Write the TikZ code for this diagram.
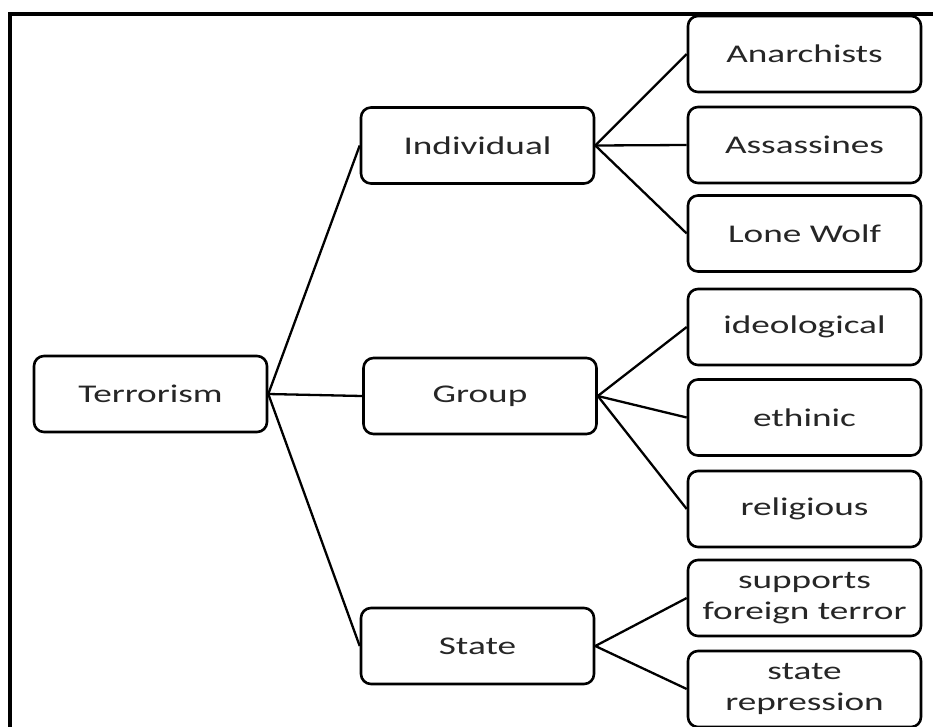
\documentclass[tikz,border=0pt]{standalone}
\usepackage{fontspec}
\setmainfont[FakeStretch=1.46]{Carlito}
\begin{document}
\begin{tikzpicture}[x=1pt,y=-1pt,
  box/.style={draw=black, line width=2.6pt, rounded corners=10pt, fill=white,
    minimum width=233pt, minimum height=76pt, inner sep=0pt, align=center,
    font=\fontsize{25.5pt}{31pt}\selectfont, text=black!85},
  link/.style={draw=black, line width=2.3pt}]
  \useasboundingbox (0,0) rectangle (933,726);
  \begin{scope}
    \clip (0,0) rectangle (933,726);
    % outer frame, running off the right and bottom edges
    \draw[line width=3.2pt] (10,14) rectangle (960,760);

    % tree levels
    \node[box] (root) at (150.5,394) {Terrorism};

    \node[box] (ind) at (477.5,145.5) {Individual};
    \node[box] (grp) at (480,396) {Group};
    \node[box] (sta) at (477.5,646) {State};

    \node[box] (ana) at (804.5,54)  {Anarchists};
    \node[box] (ass) at (804.5,145) {Assassines};
    \node[box] (lone) at (804.5,233.5) {Lone Wolf};

    \node[box] (ideo) at (804.5,327) {ideological};
    \node[box] (eth) at (804.5,417.5) {ethinic};
    \node[box] (rel) at (804.5,509) {religious};

    \node[box] (sup) at (804.5,598) {supports\\foreign terror};
    \node[box] (rep) at (804.5,689) {state\\repression};

    % connectors
    \draw[link] (root.east) -- (ind.west);
    \draw[link] (root.east) -- (grp.west);
    \draw[link] (root.east) -- (sta.west);

    \draw[link] (ind.east) -- (ana.west);
    \draw[link] (ind.east) -- (ass.west);
    \draw[link] (ind.east) -- (lone.west);

    \draw[link] (grp.east) -- (ideo.west);
    \draw[link] (grp.east) -- (eth.west);
    \draw[link] (grp.east) -- (rel.west);

    \draw[link] (sta.east) -- (sup.west);
    \draw[link] (sta.east) -- (rep.west);
  \end{scope}
\end{tikzpicture}
\end{document}
